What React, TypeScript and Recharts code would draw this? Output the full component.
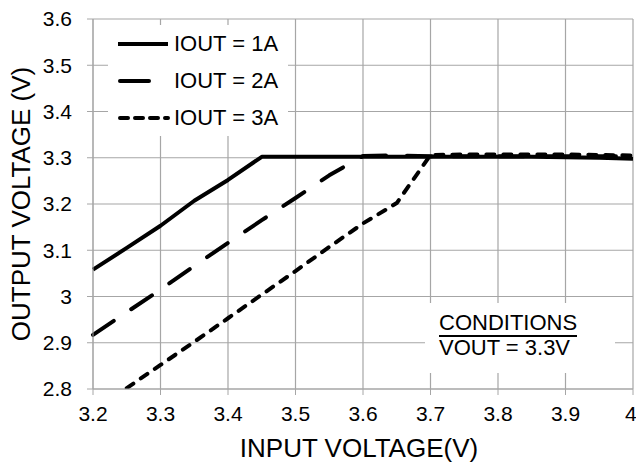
import React from 'react';
import { LineChart, Line, XAxis, YAxis, CartesianGrid } from 'recharts';

// input voltage (V), sampled every 50 mV
const VIN = [3.2, 3.25, 3.3, 3.35, 3.4, 3.45, 3.5, 3.55, 3.6, 3.65, 3.7, 3.75, 3.8, 3.85, 3.9, 3.95, 4.0];

// output voltage (V) per load current
const IOUT_1A = [3.058, 3.105, 3.153, 3.207, 3.252, 3.302, 3.302, 3.302, 3.302, 3.302, 3.302, 3.302, 3.302, 3.302, 3.301, 3.3, 3.298];
const IOUT_2A = [2.917, 2.966, 3.015, 3.066, 3.116, 3.165, 3.213, 3.262, 3.304, 3.305, 3.303, 3.303, 3.303, 3.303, 3.303, 3.303, 3.303];
const IOUT_3A = [null, 2.802, 2.852, 2.902, 2.953, 3.004, 3.055, 3.107, 3.158, 3.202, 3.306, 3.307, 3.307, 3.307, 3.307, 3.306, 3.305];

const X_TICKS = [3.2, 3.3, 3.4, 3.5, 3.6, 3.7, 3.8, 3.9, 4.0];
const Y_TICKS = [2.8, 2.9, 3.0, 3.1, 3.2, 3.3, 3.4, 3.5, 3.6];

const SERIES_NAMES = ['IOUT = 1A', 'IOUT = 2A', 'IOUT = 3A'];
const CONDITIONS = ['CONDITIONS', 'VOUT = 3.3V'];

const FONT = '"Liberation Sans", Arial, Helvetica, sans-serif';
const GRID = '#a6a6a6';

const rows = VIN.map((v, i) => ({ vin: v, i1: IOUT_1A[i], i2: IOUT_2A[i], i3: IOUT_3A[i] }));

// line styles: solid, long dash, short dash
const STYLES = [
    { key: 'i1', dash: undefined },
    { key: 'i2', dash: '25 21' },
    { key: 'i3', dash: '8 9' },
];

const fmt = (v: number) => String(Number(v.toFixed(1)));

function LegendBox() {
    return (
        <div style={{ position: 'absolute', left: 108, top: 25, width: 180, height: 111, background: '#fff' }}>
            {SERIES_NAMES.map((name, i) => (
                <div key={name} style={{ position: 'absolute', left: 0, top: 5 + i * 37, height: 28, width: 180 }}>
                    <svg width={60} height={28} style={{ position: 'absolute', left: 8, top: 0 }}>
                        {i === 0 && <line x1={2} y1={14} x2={52} y2={14} stroke="#000" strokeWidth={4} />}
                        {i === 1 && <line x1={4} y1={14} x2={41} y2={14} stroke="#000" strokeWidth={4} strokeLinecap="round" strokeDasharray="29 100" />}
                        {i === 2 && <line x1={4} y1={14} x2={52} y2={14} stroke="#000" strokeWidth={4} strokeLinecap="round" strokeDasharray="8 7" />}
                    </svg>
                    <span style={{ position: 'absolute', left: 66, top: 1, fontSize: 22, lineHeight: '26px', color: '#000', whiteSpace: 'nowrap' }}>
                        {name}
                    </span>
                </div>
            ))}
        </div>
    );
}

function ConditionsBox() {
    return (
        <div style={{ position: 'absolute', left: 425, top: 303, width: 190, height: 70, background: '#fff' }}>
            <div style={{ position: 'absolute', left: 14, top: 7, fontSize: 22, lineHeight: '25px', color: '#000', borderBottom: '2px solid #000', whiteSpace: 'nowrap' }}>
                {CONDITIONS[0]}
            </div>
            <div style={{ position: 'absolute', left: 14, top: 32, fontSize: 22, lineHeight: '25px', color: '#000', whiteSpace: 'nowrap' }}>
                {CONDITIONS[1]}
            </div>
        </div>
    );
}

export default function App() {
    return (
        <div style={{ position: 'absolute', left: 0, top: 0, width: 636, height: 465, fontFamily: FONT, background: '#fff' }}>
            <LineChart width={636} height={465} data={rows} margin={{ top: 19, right: 3, left: 0, bottom: 0 }}>
                <CartesianGrid stroke={GRID} strokeWidth={1.2} />
                <XAxis
                    dataKey="vin"
                    type="number"
                    domain={[3.2, 4.0]}
                    ticks={X_TICKS}
                    tickFormatter={fmt}
                    height={76}
                    tickSize={6}
                    tickMargin={11}
                    stroke={GRID}
                    tick={{ fill: '#000', fontSize: 21, fontFamily: FONT }}
                    label={{
                        content: ({ viewBox }: any) => (
                            <text x={viewBox.x + viewBox.width / 2 - 4} y={457} textAnchor="middle" fontSize={26} fontFamily={FONT} fill="#000">
                                INPUT VOLTAGE(V)
                            </text>
                        ),
                    }}
                />
                <YAxis
                    type="number"
                    domain={[2.8, 3.6]}
                    ticks={Y_TICKS}
                    tickFormatter={fmt}
                    width={93}
                    tickSize={6}
                    tickMargin={15}
                    stroke={GRID}
                    allowDataOverflow
                    tick={{ fill: '#000', fontSize: 21, fontFamily: FONT }}
                    label={{
                        content: ({ viewBox }: any) => {
                            const cx = 30;
                            const cy = viewBox.y + viewBox.height / 2;
                            return (
                                <text x={cx} y={cy} transform={`rotate(-90 ${cx} ${cy})`} textAnchor="middle" fontSize={26} fontFamily={FONT} fill="#000">
                                    OUTPUT VOLTAGE (V)
                                </text>
                            );
                        },
                    }}
                />
                {STYLES.map((s) => (
                    <Line
                        key={s.key}
                        type="linear"
                        dataKey={s.key}
                        stroke="#000"
                        strokeWidth={4}
                        strokeDasharray={s.dash}
                        strokeLinecap={s.dash ? 'round' : 'butt'}
                        strokeLinejoin="round"
                        dot={false}
                        activeDot={false}
                        isAnimationActive={false}
                    />
                ))}
            </LineChart>
            <LegendBox />
            <ConditionsBox />
        </div>
    );
}
